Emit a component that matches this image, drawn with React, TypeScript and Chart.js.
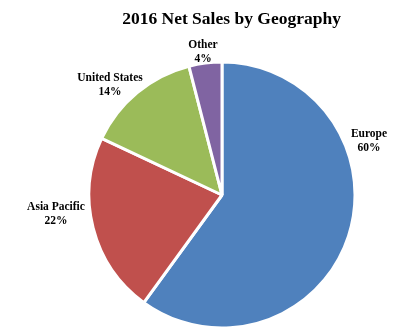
import React, { useEffect, useRef } from "react";
import { Chart, registerables } from "chart.js";

Chart.register(...registerables);

const TITLE = "2016 Net Sales by Geography";
const categories = ["Europe", "Asia Pacific", "United States", "Other"];
const values = [60, 22, 14, 4];
const colors = ["#4F81BD", "#C0504D", "#9BBB59", "#8064A2"];

const FONT = '"Liberation Serif", "Times New Roman", serif';

// label anchor offsets from pie center (layout only)
const labelOffsets: Record<string, [number, number]> = {
  Europe: [147, -58],
  "Asia Pacific": [-166, 15],
  "United States": [-112, -114],
  Other: [-19, -147],
};

const labelPlugin = {
  id: "customLabels",
  afterDraw(chart: any) {
    const ctx = chart.ctx;
    ctx.save();
    ctx.fillStyle = "#000";
    ctx.textAlign = "center";
    ctx.textBaseline = "alphabetic";
    ctx.font = `bold 17.5px ${FONT}`;
    ctx.fillText(TITLE, 231.5, 24);
    const meta = chart.getDatasetMeta(0);
    const total = values.reduce((a, b) => a + b, 0);
    ctx.font = `bold 11.5px ${FONT}`;
    meta.data.forEach((arc: any, i: number) => {
      const name = categories[i];
      const off = labelOffsets[name] || [0, 0];
      const x = arc.x + off[0];
      const y = arc.y + off[1];
      const pct = Math.round((values[i] / total) * 100) + "%";
      ctx.fillText(name, x, y);
      ctx.fillText(pct, x, y + 14);
    });
    ctx.restore();
  },
};

export default function App() {
  const ref = useRef<HTMLCanvasElement>(null);
  useEffect(() => {
    if (!ref.current) return;
    const chart = new Chart(ref.current, {
      type: "pie",
      data: {
        labels: categories,
        datasets: [
          {
            data: values,
            backgroundColor: colors,
            borderColor: "#FFFFFF",
            borderWidth: 3,
          },
        ],
      },
      options: {
        animation: false,
        responsive: false,
        radius: 133,
        layout: { padding: { left: 25, right: 0, top: 58, bottom: 0 } },
        plugins: {
          legend: { display: false },
          title: { display: false },
          tooltip: { enabled: false },
        },
      } as any,
      plugins: [labelPlugin],
    });
    return () => chart.destroy();
  }, []);
  return (
    <div style={{ position: "fixed", left: 0, top: 0, width: 419, height: 332, background: "#fff" }}>
      <canvas ref={ref} width={419} height={332} style={{ width: 419, height: 332, display: "block" }} />
    </div>
  );
}
